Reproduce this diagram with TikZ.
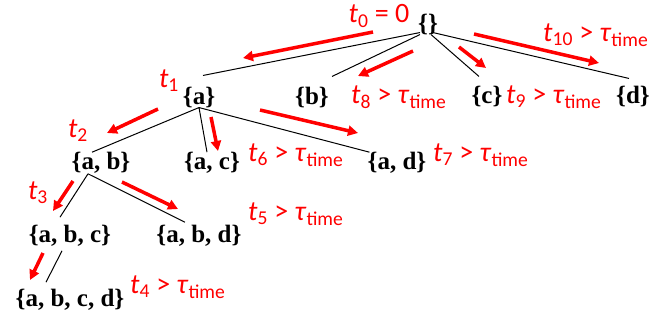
\documentclass[tikz,border=0pt]{standalone}
\usepackage{fontspec}
\setmainfont{Liberation Serif}
\newfontfamily\labfont{Carlito}
\usetikzlibrary{arrows.meta}

\newcommand{\tsub}[1]{\textit{t}\textsubscript{#1}}
\newcommand{\ttime}{\textit{τ}\textsubscript{time}}

\begin{document}
\begin{tikzpicture}[x=1pt,y=-1pt,
      set node/.style={inner sep=0pt,font=\fontsize{25}{29}\selectfont\bfseries},
      time node/.style={inner sep=0pt,text=red,font=\labfont\fontsize{28}{32}\selectfont},
      link/.style={draw,line width=1pt},
      walk/.style={draw=red,line width=3.5pt,-{Triangle[length=10pt,width=10pt]}}]
      \useasboundingbox (0,0) rectangle (672,325);

      % lattice of itemsets
      \node[set node] (root) at (428,24) {\{\}};
      \node[set node] (a) at (199,97) {\{a\}};
      \node[set node] (b) at (312,97) {\{b\}};
      \node[set node] (c) at (487,96) {\{c\}};
      \node[set node] (d) at (633,96) {\{d\}};
      \node[set node] (ab) at (101,163) {\{a, b\}};
      \node[set node] (ac) at (212,163) {\{a, c\}};
      \node[set node] (ad) at (397,163) {\{a, d\}};
      \node[set node] (abc) at (70,236) {\{a, b, c\}};
      \node[set node] (abd) at (199,236) {\{a, b, d\}};
      \node[set node] (abcd) at (70,300) {\{a, b, c, d\}};

      \path[link]
        ([xshift=-8pt,yshift=2pt]root.south) -- ([xshift=4pt,yshift=11pt]a.north)
        ([xshift=-8pt]root.south) -- ([xshift=3pt,yshift=10pt]b.north east)
        ([xshift=3pt]root.south) -- ([xshift=-8pt,yshift=9pt]c.north)
        ([xshift=5pt,yshift=2pt]root.south) -- ([xshift=-4pt,yshift=7pt]d.north)
        (a.south) -- ([xshift=-9pt]ab.north)
        (a.south) -- ([xshift=-5pt]ac.north)
        (a.south) -- ([xshift=2pt]ad.north west)
        ([xshift=-13pt]ab.south) -- ([xshift=-10pt,yshift=8pt]abc.north)
        ([xshift=-13pt]ab.south) -- ([xshift=-14pt,yshift=3pt]abd.north)
        ([xshift=-8pt,yshift=-4pt]abc.south) -- ([xshift=-24pt,yshift=7pt]abcd.north);

      % search order
      \coordinate (s0) at (373,32);  \coordinate (e0) at (243,58);
      \coordinate (s1) at (158,109); \coordinate (e1) at (107,133);
      \coordinate (s2) at (73,181);  \coordinate (e2) at (53,211);
      \coordinate (s3) at (43,253);  \coordinate (e3) at (30,280);
      \coordinate (s4) at (122,182); \coordinate (e4) at (178,209);
      \coordinate (s5) at (211,117); \coordinate (e5) at (218,151);
      \coordinate (s6) at (260,110); \coordinate (e6) at (358,133);
      \coordinate (s7) at (413,51);  \coordinate (e7) at (358,76);
      \coordinate (s8) at (459,47);  \coordinate (e8) at (486,68);
      \coordinate (s9) at (474,34);  \coordinate (e9) at (599,63);
      \foreach \i in {0,...,9}
        \draw[walk] (s\i) -- (e\i);

      \node[time node] (t0) at (379,16) {\tsub{0} = 0};
      \node[time node] (t1) at (169,81) {\tsub{1}};
      \node[time node] (t2) at (78,131) {\tsub{2}};
      \node[time node] (t3) at (38,193) {\tsub{3}};
      \node[time node,anchor=west] (t4) at (130,287) {\tsub{4} > \ttime};
      \node[time node,anchor=west] (t5) at (248,214) {\tsub{5} > \ttime};
      \node[time node,anchor=west] (t6) at (248,155) {\tsub{6} > \ttime};
      \node[time node,anchor=west] (t7) at (433,155) {\tsub{7} > \ttime};
      \node[time node,anchor=west] (t8) at (351,97) {\tsub{8} > \ttime};
      \node[time node,anchor=west] (t9) at (506,97) {\tsub{9} > \ttime};
      \node[time node,anchor=west] (t10) at (543,35) {\tsub{10} > \ttime};
\end{tikzpicture}
\end{document}
